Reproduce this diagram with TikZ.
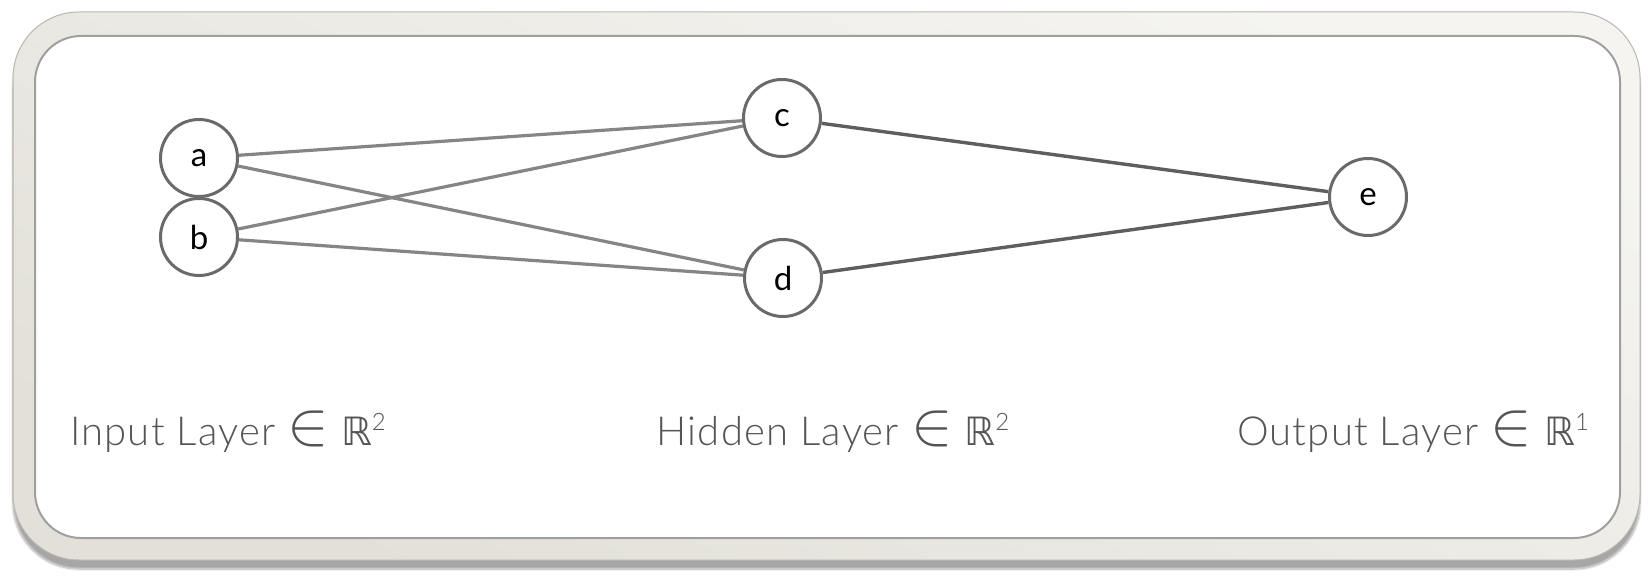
\documentclass[tikz,border=0pt]{standalone}
\usepackage{fontspec}
\setmainfont{Lato}
\newfontfamily\labelfont[LetterSpace=3]{Lato Light}
\newfontfamily\symfont{DejaVu Sans}
\usetikzlibrary{shadows.blur}
\definecolor{framefill}{HTML}{E2E0D8}
\definecolor{frameedge}{HTML}{B8B6AE}
\definecolor{ringgray}{HTML}{6A6A6A}
\definecolor{leftedge}{HTML}{858585}
\definecolor{rightedge}{HTML}{5E5E5E}
\definecolor{labelgray}{HTML}{555555}
\tikzset{
  neuron/.style={circle, draw=ringgray, line width=3pt, fill=white,
    minimum size=77pt, inner sep=0pt, font=\fontsize{33}{33}\selectfont},
  inlink/.style={draw=leftedge, line width=3.2pt},
  outlink/.style={draw=rightedge, line width=3.4pt},
  layerlabel/.style={anchor=base, text=labelgray,
    font=\labelfont\fontsize{40}{40}\selectfont},
}
\newcommand{\realsp}[1]{\raisebox{1pt}{\scalebox{2.5}{$\in$}}\ {\symfont\fontsize{39}{39}\selectfont\char"211D}\raisebox{15pt}{\fontsize{24}{24}\selectfont #1}}
\begin{document}
\begin{tikzpicture}[x=1pt, y=-1pt]
  \useasboundingbox (0,0) rectangle (1651,588);
  % outer frame with soft shadow
  \path[rounded corners=66pt, draw=frameedge, line width=1pt,
        left color=framefill!35, right color=framefill, shading angle=-25,
        blur shadow={shadow xshift=0pt, shadow yshift=-9pt, shadow blur steps=12, shadow opacity=35}]
    (13,12) rectangle (1640,560);
  % inner white panel
  \path[rounded corners=46pt, fill=white, draw=gray!75, line width=2pt]
    (35,36) rectangle (1620,538);
  % neurons
  \node[neuron] (a) at (199,158) {a};
  \node[neuron] (b) at (199,237) {b};
  \node[neuron] (c) at (782,118) {c};
  \node[neuron] (d) at (783,278) {d};
  \node[neuron] (e) at (1368,197) {e};
  % connections
  \path[inlink] (a) -- (c);
  \path[inlink] (a) -- (d);
  \path[inlink] (b) -- (c);
  \path[inlink] (b) -- (d);
  \path[outlink] (c) -- (e);
  \path[outlink] (d) -- (e);
  % layer captions
  \node[layerlabel] (inlabel) at (228,445) {Input Layer \realsp{2}};
  \node[layerlabel] (hidlabel) at (833,445) {Hidden Layer \realsp{2}};
  \node[layerlabel] (outlabel) at (1413,445) {Output Layer \realsp{1}};
\end{tikzpicture}
\end{document}
